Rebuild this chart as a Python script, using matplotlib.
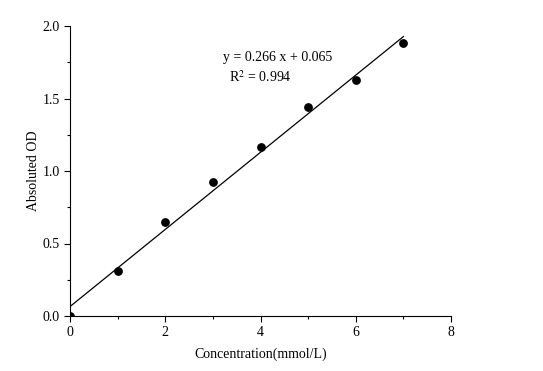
import matplotlib
matplotlib.use("Agg")
import matplotlib.pyplot as plt
import numpy as np
from matplotlib.ticker import MultipleLocator

conc = [0, 1, 2, 3, 4, 5, 6, 7]
od = [0.0, 0.308, 0.648, 0.924, 1.168, 1.441, 1.625, 1.883]
slope = 0.266
intercept = 0.065

plt.rcParams['font.family'] = ['Liberation Serif', 'DejaVu Serif']
plt.rcParams['mathtext.fontset'] = 'stix'

fig = plt.figure(figsize=(5.43, 3.71), dpi=100)
ax = fig.add_axes([70 / 543, 1 - 316 / 371, 381 / 543, 290 / 371])

ax.scatter(conc, od, s=28, color='black', zorder=3)
xs = np.array([0, 7])
ax.plot(xs, slope * xs + intercept, color='black', lw=0.9)

ax.set_xlim(0, 8)
ax.set_ylim(0, 2.0)
ax.xaxis.set_major_locator(MultipleLocator(2))
ax.xaxis.set_minor_locator(MultipleLocator(1))
ax.yaxis.set_major_locator(MultipleLocator(0.5))
ax.yaxis.set_minor_locator(MultipleLocator(0.25))
ax.yaxis.set_major_formatter(plt.FormatStrFormatter('%.1f'))
ax.tick_params(which='major', direction='out', length=4, width=0.8, labelsize=10)
ax.tick_params(which='minor', direction='out', length=2.5, width=0.8)
for s in ['top', 'right']:
    ax.spines[s].set_visible(False)

ax.set_xlabel('Concentration(mmol/L)', fontsize=10, labelpad=6)
ax.set_ylabel('Absoluted OD', fontsize=10)
ax.yaxis.set_label_coords(-0.078, 0.5)

ax.text(4.37, 1.78, 'y = 0.266 x + 0.065', fontsize=10, ha='center', va='center')
ax.text(3.99, 1.65, 'R$^2$ = 0.994', fontsize=10, ha='center', va='center')

fig.savefig('out.png', dpi=100)
